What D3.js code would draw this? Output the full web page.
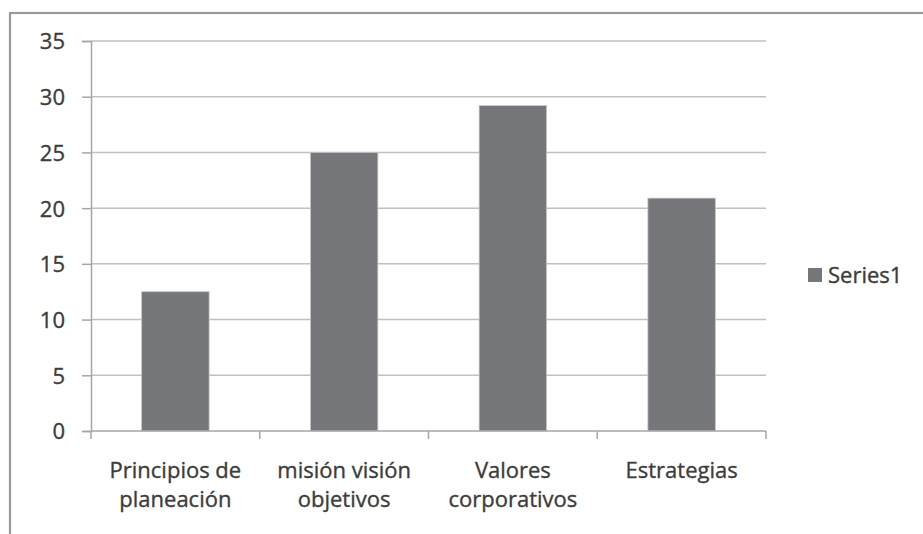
<!DOCTYPE html>
<html><head><meta charset="utf-8">
<script src="https://cdn.jsdelivr.net/npm/d3@7"></script>
<style>body{margin:0;background:#fff;} svg{display:block;}</style>
</head><body>
<script>
const categories = [["Principios de","planeación"],["misión visión","objetivos"],["Valores","corporativos"],["Estrategias"]];
const catKeys = ["Principios de planeación","misión visión objetivos","Valores corporativos","Estrategias"];
const values = [12.5, 25, 29.2, 20.9];
const yTicks = [0,5,10,15,20,25,30,35];
const seriesName = "Series1";

(function(){
const W=923,H=534;
const svg=d3.select("body").append("svg").attr("width",W).attr("height",H);
// frame
svg.append("rect").attr("x",10).attr("y",13).attr("width",W).attr("height",H)
  .attr("fill","none").attr("stroke","#9a9a9a").attr("stroke-width",2.2);

const pL=91,pR=766,pT=41,pB=431;
const x=d3.scaleBand().domain(catKeys).range([pL,pR]).paddingInner(0.6).paddingOuter(0.3);
const y=d3.scaleLinear().domain([0,35]).range([pB,pT]);
const font="'Open Sans', Lato, sans-serif";
const fs=22, col="#3c3c3c";

// gridlines
svg.append("g").selectAll("line").data(yTicks.filter(d=>d>0)).join("line")
  .attr("x1",pL).attr("x2",pR).attr("y1",d=>y(d)).attr("y2",d=>y(d))
  .attr("stroke","#c0c0c0").attr("stroke-width",1.5);

// y axis
const ya=svg.append("g").attr("transform",`translate(${pL},0)`)
  .call(d3.axisLeft(y).tickValues(yTicks).tickSize(9).tickPadding(17));
ya.select(".domain").attr("stroke","#a6a6a6").attr("stroke-width",1.5);
ya.selectAll(".tick line").attr("stroke","#a6a6a6").attr("stroke-width",1.5);
ya.selectAll("text").attr("font-family",font).attr("font-size",fs).attr("fill",col)
  .attr("stroke",col).attr("stroke-width",0.35).attr("dy","0.36em");

// bars
svg.append("g").selectAll("rect").data(values).join("rect")
  .attr("x",(d,i)=>x(catKeys[i])).attr("width",x.bandwidth())
  .attr("y",d=>y(d)).attr("height",d=>y(0)-y(d))
  .attr("fill","#76777b").attr("stroke","#c8c8c8").attr("stroke-width",0.8);

// x axis
svg.append("line").attr("x1",pL).attr("x2",pR).attr("y1",pB).attr("y2",pB)
  .attr("stroke","#a6a6a6").attr("stroke-width",1.5);
const tickX=[pL].concat(catKeys.slice(1).map(k=>x(k)-x.step()*x.paddingInner()/2)).concat([pR]);
svg.append("g").selectAll("line").data(tickX).join("line")
  .attr("x1",d=>d).attr("x2",d=>d).attr("y1",pB).attr("y2",pB+8)
  .attr("stroke","#a6a6a6").attr("stroke-width",1.5);

const lab=svg.append("g").selectAll("text").data(categories).join("text")
  .attr("x",(d,i)=>x(catKeys[i])+x.bandwidth()/2).attr("y",478)
  .attr("text-anchor","middle").attr("font-family",font).attr("font-size",fs).attr("fill",col)
  .attr("stroke",col).attr("stroke-width",0.35);
lab.selectAll("tspan").data(d=>d).join("tspan")
  .attr("x",function(){return this.parentNode.getAttribute("x");})
  .attr("dy",(d,i)=>i===0?0:28.5).text(d=>d);

// legend
svg.append("rect").attr("x",808).attr("y",268).attr("width",14).attr("height",14).attr("fill","#76777b");
svg.append("text").attr("x",828).attr("y",283).attr("font-family",font).attr("font-size",fs)
  .attr("fill",col).attr("stroke",col).attr("stroke-width",0.35).text(seriesName);
})();
</script>
</body></html>
